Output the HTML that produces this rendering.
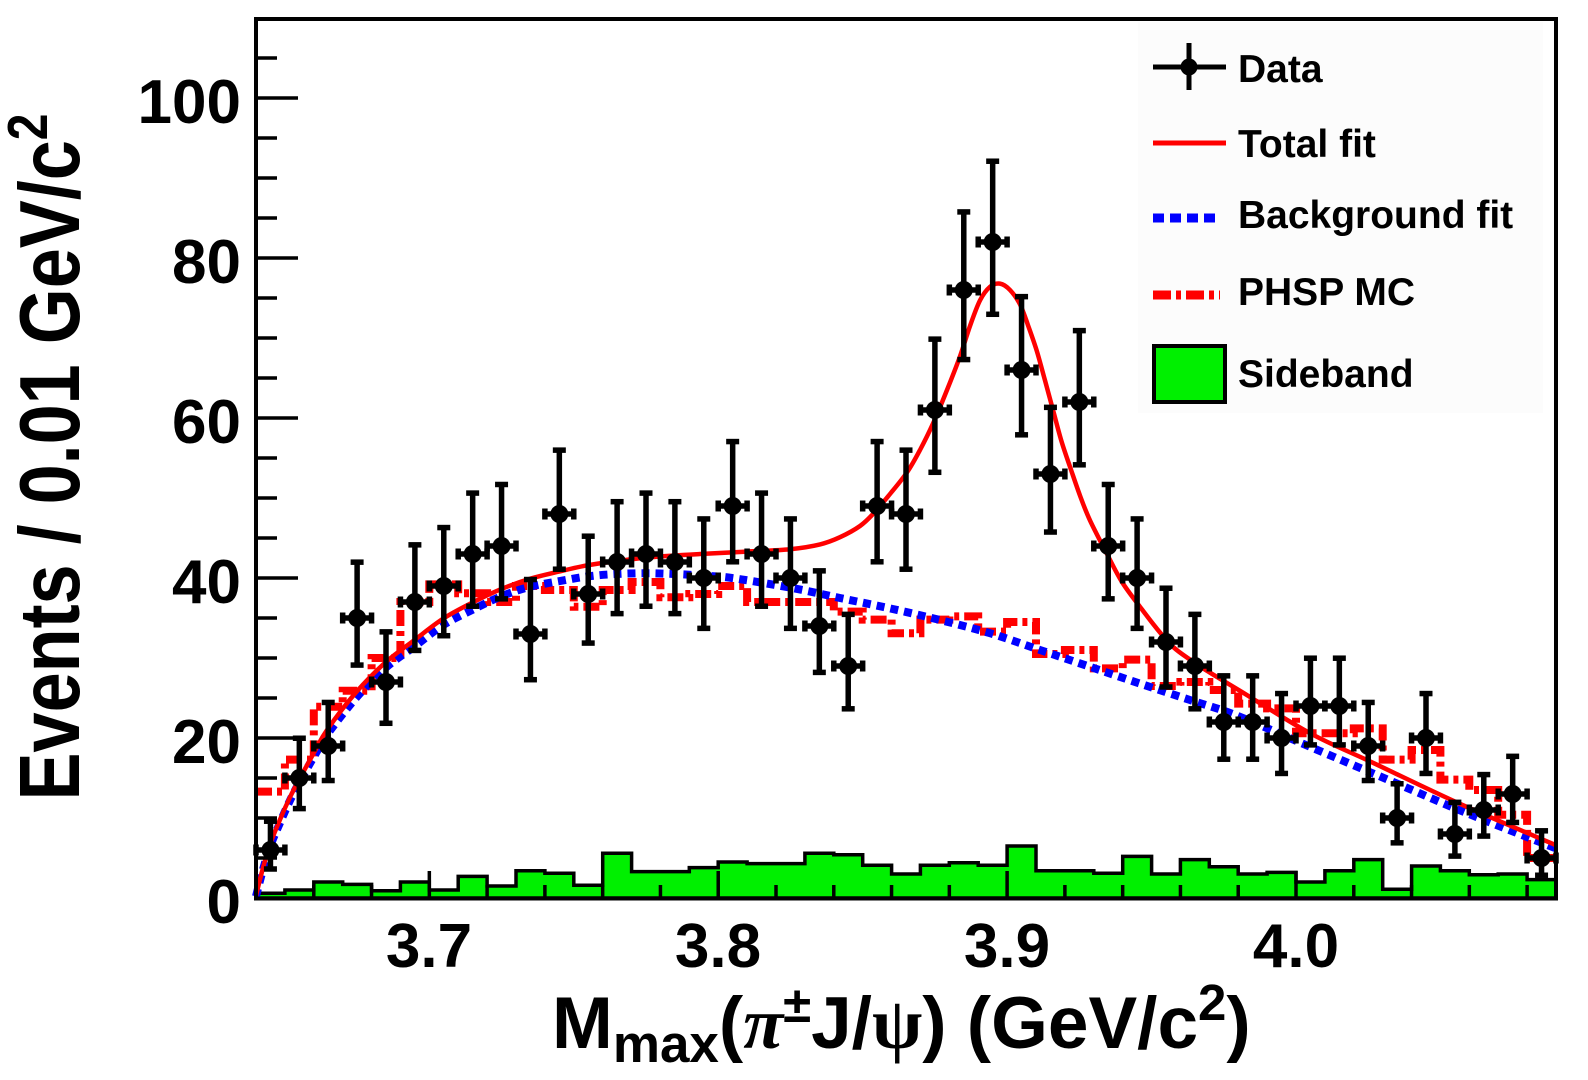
<!DOCTYPE html>
<html><head><meta charset="utf-8">
<style>
html,body{margin:0;padding:0;background:#fff;}
svg{display:block;}
text{font-family:"Liberation Sans",Arial,sans-serif;font-weight:bold;fill:#000;}
</style></head><body>
<svg id="s" width="1588" height="1080" viewBox="0 0 1588 1080" xmlns="http://www.w3.org/2000/svg">
<rect width="1588" height="1080" fill="#fff"/>
<g id="plot"></g>
<g id="axes"></g>
<!-- legend -->
<rect x="1138" y="22" width="405" height="391" fill="#fcfcfc"/>
<line x1="1153" y1="67" x2="1226" y2="67" stroke="#000" stroke-width="5"/>
<line x1="1189" y1="43" x2="1189" y2="90" stroke="#000" stroke-width="5"/>
<circle cx="1189" cy="67" r="8.5" fill="#000"/>
<line x1="1153" y1="143" x2="1226" y2="143" stroke="#ff0000" stroke-width="5"/>
<line x1="1153" y1="218" x2="1220" y2="218" stroke="#0000ff" stroke-width="9" stroke-dasharray="11 6"/>
<line x1="1153" y1="295" x2="1220" y2="295" stroke="#ff0000" stroke-width="9" stroke-dasharray="18 5 5 5"/>
<rect x="1154" y="346" width="71" height="56" fill="#00f000" stroke="#000" stroke-width="4"/>
<text x="1238" y="82" font-size="39">Data</text>
<text x="1238" y="157" font-size="39">Total fit</text>
<text x="1238" y="228" font-size="39">Background fit</text>
<text x="1238" y="305" font-size="39">PHSP MC</text>
<text x="1238" y="387" font-size="39">Sideband</text>
<!-- y tick labels -->
<g font-size="62" text-anchor="end">
<text x="241" y="923">0</text>
<text x="241" y="763">20</text>
<text x="241" y="603">40</text>
<text x="241" y="443">60</text>
<text x="241" y="283">80</text>
<text x="241" y="123">100</text>
</g>
<!-- x tick labels -->
<g font-size="62" text-anchor="middle">
<text x="429" y="967">3.7</text>
<text x="718" y="967">3.8</text>
<text x="1007" y="967">3.9</text>
<text x="1296" y="967">4.0</text>
</g>
<!-- y title -->
<text transform="translate(79,457) scale(1.18,1) rotate(-90)" font-size="72" text-anchor="middle">Events / 0.01 GeV/c<tspan font-size="48" dy="-27">2</tspan></text>
<!-- x title -->
<text x="552" y="1048" font-size="73">M<tspan font-size="53" dy="14">max</tspan><tspan dy="-14">(</tspan><tspan font-family="Liberation Serif, serif" font-style="italic">π</tspan><tspan font-size="51" dy="-26">±</tspan><tspan dy="26">J/</tspan><tspan font-family="Liberation Serif, serif">ψ</tspan><tspan>) (GeV/c</tspan><tspan font-size="51" dy="-28">2</tspan><tspan dy="28">)</tspan></text>
</svg>
<script>
(function(){
var NS="http://www.w3.org/2000/svg";
var plot=document.getElementById('plot'), axes=document.getElementById('axes');
var X0=256, X1=1556, NB=45, BW=(X1-X0)/NB, Y0=898, SY=8;
function xb(i){return X0+BW*i;}
function yv(v){return Y0-SY*v;}
function xm(m){return X0+(m-3.64)/0.45*(X1-X0);}
function el(tag,a,p){var e=document.createElementNS(NS,tag);for(var k in a)e.setAttribute(k,a[k]);(p||plot).appendChild(e);return e;}

var data=[6,15,19,35,27,37,39,43,44,33,48,38,42,43,42,40,49,43,40,34,29,49,48,61,76,82,66,53,62,44,40,32,29,22,22,20,24,24,19,10,20,8,11,13,5];
var side=[0.6,1.0,2.0,1.7,0.9,2.0,1.0,2.7,1.5,3.4,3.1,1.6,5.6,3.3,3.3,3.8,4.5,4.3,4.3,5.6,5.4,4.1,3.0,4.1,4.4,4.1,6.5,3.4,3.4,3.1,5.2,3.0,4.8,3.9,3.0,3.2,2.0,3.4,4.8,1.1,4.0,3.4,2.9,3.0,2.3];
var phsp=[13.3,17.3,23.9,25.9,30,37,39.2,38.1,37,39,38.5,36.4,38.5,39.5,37.6,38,39,37,37,37,35.8,34.8,33.1,34.8,35.2,33.3,34.5,30.5,31,28.7,29.8,26.5,27,26,24.3,23.7,20.6,20.6,21.2,17.3,18.5,14.8,13.5,10.4,5];
var bg=[[256,0.2],[262,3.1],[270,6.4],[280,9.4],[290,12.2],[300,14.6],[315,17.9],[327,20.4],[356,25],[385,28.7],[414,31.4],[443,34.1],[472,36],[501,37.7],[530,38.9],[559,39.6],[588,40.2],[617,40.5],[646,40.6],[674,40.5],[703,40.3],[732,40],[790,38.8],[840,37.5],[890,36.2],[940,34.75],[990,33.1],[1040,31],[1090,28.9],[1140,26.8],[1190,24.75],[1237,22.8],[1310,18.9],[1397,14.3],[1463,10.8],[1556,6.2]];
var tot=[[256,0.3],[262,3.3],[270,6.7],[280,9.8],[290,12.6],[300,15],[315,18.4],[327,21],[356,25.7],[385,29.4],[414,32.2],[443,34.9],[472,36.9],[501,38.6],[530,39.9],[559,40.8],[588,41.6],[617,42.1],[650,42.6],[700,43],[747,43.3],[790,43.6],[820,44.2],[840,45.1],[860,46.5],[873,48],[890,50.5],[907,53.2],[920,56],[933,59.3],[947,63.5],[960,67.7],[970,71.5],[980,74.7],[990,76.4],[1000,76.8],[1010,76],[1020,74.2],[1028,71.6],[1037,68.3],[1045,64.7],[1053,61],[1061,57.3],[1070,53.9],[1080,50.3],[1090,47.2],[1107,43],[1122,39.5],[1140,36.4],[1156,33.8],[1173,31.4],[1190,29.8],[1207,28.4],[1240,25.9],[1310,20.6],[1373,16.9],[1463,11.6],[1556,6.6]];

// sideband
var d="M"+X0+","+Y0;
for(var i=0;i<NB;i++){d+=" L"+xb(i).toFixed(1)+","+yv(side[i]).toFixed(1)+" L"+xb(i+1).toFixed(1)+","+yv(side[i]).toFixed(1);}
d+=" L"+X1+","+Y0+" Z";
el('path',{d:d,fill:'#00f000',stroke:'#000','stroke-width':3.5,'stroke-linejoin':'miter'});

// phsp
d="M"+X0+","+yv(phsp[0]).toFixed(1);
for(i=0;i<NB;i++){ if(i>0) d+=" V"+yv(phsp[i]).toFixed(1); d+=" H"+xb(i+1).toFixed(1);}
el('path',{d:d,fill:'none',stroke:'#ff0000','stroke-width':8,'stroke-dasharray':'16 5 5 5'});

function smooth(pts){
  var P=pts.map(function(p){return [p[0],yv(p[1])];});
  var s="M"+P[0][0]+","+P[0][1].toFixed(1);
  for(var i=0;i<P.length-1;i++){
    var p0=P[i-1]||P[i],p1=P[i],p2=P[i+1],p3=P[i+2]||P[i+1];
    var c1x=p1[0]+(p2[0]-p0[0])/6,c1y=p1[1]+(p2[1]-p0[1])/6;
    var c2x=p2[0]-(p3[0]-p1[0])/6,c2y=p2[1]-(p3[1]-p1[1])/6;
    s+=" C"+c1x.toFixed(1)+","+c1y.toFixed(1)+" "+c2x.toFixed(1)+","+c2y.toFixed(1)+" "+p2[0].toFixed(1)+","+p2[1].toFixed(1);
  }
  return s;
}
el('path',{d:smooth(bg),fill:'none',stroke:'#0000ff','stroke-width':8,'stroke-dasharray':'8 6'});
el('path',{d:smooth(tot),fill:'none',stroke:'#ff0000','stroke-width':4.5});

// data
for(i=0;i<NB;i++){
  var N=data[i], cx=xb(i+0.5), cy=yv(N);
  var up=N+Math.sqrt(N+0.75)+1;
  var lo=N*Math.pow(1-1/(9*N)-1/(3*Math.sqrt(N)),3);
  var yu=yv(up), yl=yv(lo);
  var g=el('g',{stroke:'#000','stroke-width':5.5,fill:'none'});
  el('line',{x1:cx,y1:yu,x2:cx,y2:yl},g);
  el('line',{x1:cx-6.5,y1:yu,x2:cx+6.5,y2:yu},g);
  el('line',{x1:cx-6.5,y1:yl,x2:cx+6.5,y2:yl},g);
  el('line',{x1:xb(i),y1:cy,x2:xb(i+1),y2:cy},g);
  el('line',{x1:xb(i),y1:cy-5.5,x2:xb(i),y2:cy+5.5},g);
  el('line',{x1:xb(i+1),y1:cy-5.5,x2:xb(i+1),y2:cy+5.5},g);
  el('circle',{cx:cx,cy:cy,r:9,fill:'#000',stroke:'none'});
}

// axes
el('rect',{x:X0,y:19,width:X1-X0,height:Y0+0.5-19,fill:'none',stroke:'#000','stroke-width':4},axes);
for(var v=5;v<=105;v+=5){
  var y=yv(v), len=(v%20===0)?42:21;
  el('line',{x1:X0,y1:y,x2:X0+len,y2:y,stroke:'#000','stroke-width':3.5},axes);
}
for(var k=1;k<23;k++){
  var m=3.64+0.02*k, x=xm(m);
  var major=(Math.abs(m*10-Math.round(m*10))<1e-6);
  el('line',{x1:x,y1:Y0,x2:x,y2:Y0-(major?27:13),stroke:'#000','stroke-width':3.5},axes);
}
})();
</script>
</body></html>
